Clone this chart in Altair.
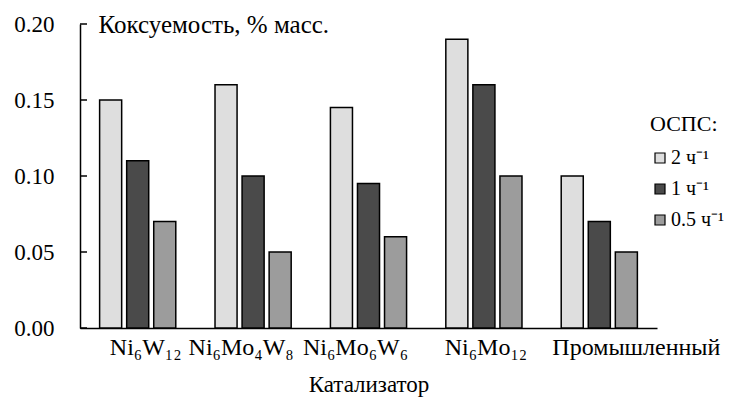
import altair as alt
import pandas as pd

catalysts = ["Ni₆W₁₂", "Ni₆Mo₄W₈", "Ni₆Mo₆W₆", "Ni₆Mo₁₂", "Промышленный"]
series = ["2 ч⁻¹", "1 ч⁻¹", "0.5 ч⁻¹"]
vals_2 = [0.15, 0.16, 0.145, 0.19, 0.10]
vals_1 = [0.11, 0.10, 0.095, 0.16, 0.07]
vals_05 = [0.07, 0.05, 0.06, 0.10, 0.05]
y_ticks = [0.0, 0.05, 0.10, 0.15, 0.20]
fills = ["#dedede", "#4a4a4a", "#9c9c9c"]

rows = []
for s, vals in zip(series, [vals_2, vals_1, vals_05]):
    for c, v in zip(catalysts, vals):
        rows.append({"cat": c, "ser": s, "val": v})
df = pd.DataFrame(rows)
ticks_df = pd.DataFrame({"val": y_ticks})

FONT = "Liberation Serif"

label_shift = (
    "datum.value == 'Промышленный' ? 37 : "
    "datum.value == 'Ni₆W₁₂' ? 8 : "
    "datum.value == 'Ni₆Mo₄W₈' ? -12 : "
    "datum.value == 'Ni₆Mo₆W₆' ? -13 : 2"
)

x_enc = alt.X(
    "cat:N", sort=catalysts,
    scale=alt.Scale(paddingInner=0.34, paddingOuter=0.17),
    axis=alt.Axis(
        title="Катализатор", titleFont=FONT, titleFontSize=23, titleFontWeight="normal",
        titleColor="black", titlePadding=14,
        labelFont=FONT, labelFontSize=24, labelColor="black", labelAngle=0,
        labelPadding=7, labelOverlap=False, labelBound=False,
        labelOffset=alt.ExprRef(label_shift),
        ticks=False, domainColor="black", domainWidth=1.5,
    ),
)
xoff_enc = alt.XOffset("ser:N", sort=series, scale=alt.Scale(domain=series, paddingInner=0.185))
y_scale = alt.Scale(domain=[0, 0.2], nice=False)

bars = alt.Chart(df).mark_bar(stroke="black", strokeWidth=1.5).encode(
    x=x_enc,
    xOffset=xoff_enc,
    y=alt.Y(
        "val:Q", scale=y_scale,
        axis=alt.Axis(
            values=y_ticks, format=".2f", grid=False, ticks=False,
            labelFont=FONT, labelFontSize=23, labelColor="black", labelPadding=26,
            domainColor="black", domainWidth=1.5,
            title="Коксуемость, % масс.", titleFont=FONT, titleFontSize=25,
            titleFontWeight="normal", titleColor="black", titleAngle=0,
            titleAlign="left", titleBaseline="alphabetic", titleX=18, titleY=8,
        ),
    ),
    fill=alt.Fill(
        "ser:N", sort=series, scale=alt.Scale(domain=series, range=fills),
        legend=alt.Legend(
            title="ОСПС:", titleFont=FONT, titleFontSize=22, titleFontWeight="normal",
            titleColor="black", titlePadding=12,
            labelFont=FONT, labelFontSize=20, labelColor="black", labelOffset=1,
            symbolType="square", symbolSize=100, symbolStrokeColor="black",
            symbolStrokeWidth=1.2, symbolOffset=0, rowPadding=11,
            orient="none", legendX=570, legendY=90,
        ),
    ),
)

inner_ticks = alt.Chart(ticks_df).mark_rule(color="black", strokeWidth=1.5).encode(
    y=alt.Y("val:Q", scale=y_scale),
    x=alt.value(0),
    x2=alt.value(7),
)

chart = alt.layer(bars, inner_ticks).properties(
    width=577, height=304,
    background="white",
    autosize=alt.AutoSizeParams(type="none"),
    padding={"left": 80, "top": 24, "right": 84, "bottom": 70},
).configure_view(stroke=None)

chart.save("out.html", embed_options={"renderer": "svg", "actions": False})
